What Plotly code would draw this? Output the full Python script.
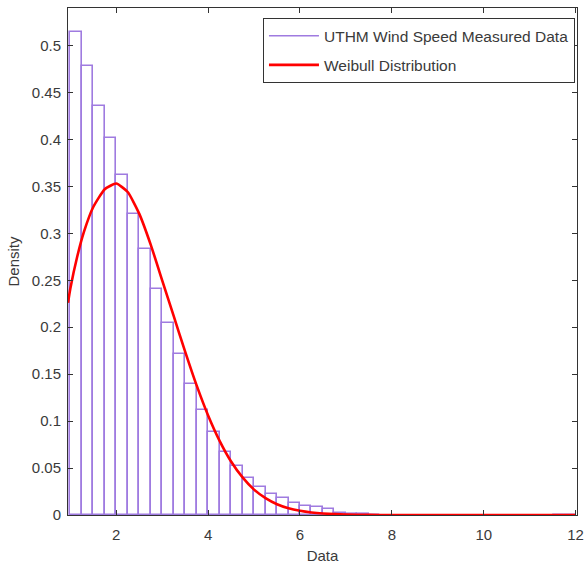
import plotly.graph_objects as go

# Histogram: left bin edges (width 0.25) and densities
bin_left = [1.00, 1.25, 1.50, 1.75, 2.00, 2.25, 2.50, 2.75, 3.00, 3.25,
            3.50, 3.75, 4.00, 4.25, 4.50, 4.75, 5.00, 5.25, 5.50, 5.75,
            6.00, 6.25, 6.50, 6.75, 7.00, 7.25, 7.50, 11.50, 11.75]
bin_width = 0.25
density = [0.514, 0.478, 0.436, 0.402, 0.362, 0.321, 0.283, 0.241, 0.204, 0.172,
           0.139, 0.112, 0.088, 0.067, 0.052, 0.039, 0.0295, 0.022, 0.018, 0.0125,
           0.0095, 0.008, 0.006, 0.0025, 0.0015, 0.001, 0.0005, 0.0004, 0.0003]

# Weibull fit curve
curve_x = [0.95, 1.0, 1.15, 1.3, 1.5, 1.75, 2.0, 2.25, 2.5, 2.75, 3.0, 3.25, 3.5,
           3.75, 4.0, 4.25, 4.5, 4.75, 5.0, 5.25, 5.5, 5.75, 6.0, 6.25, 6.5,
           7.0, 7.5, 8.0, 9.0, 10.0, 11.0, 12.0]
curve_y = [0.226, 0.241, 0.275, 0.302, 0.328, 0.347, 0.353, 0.344, 0.321, 0.288,
           0.250, 0.212, 0.174, 0.138, 0.106, 0.079, 0.057, 0.040, 0.027, 0.018,
           0.0115, 0.0072, 0.0045, 0.0027, 0.0016, 0.0005, 0.0001, 0.0, 0.0, 0.0,
           0.0, 0.0]

x_ticks = [2, 4, 6, 8, 10, 12]
y_ticks = [0, 0.05, 0.1, 0.15, 0.2, 0.25, 0.3, 0.35, 0.4, 0.45, 0.5]
y_tick_text = ["0", "0.05", "0.1", "0.15", "0.2", "0.25", "0.3", "0.35", "0.4", "0.45", "0.5"]

hist_name = "UTHM Wind Speed Measured Data"
fit_name = "Weibull Distribution"

PURPLE = "#9f7be0"
TEXT = "#3a3a3a"
FONT = "Liberation Sans, Arial, sans-serif"

centers = [b + bin_width / 2 for b in bin_left]

fig = go.Figure()
fig.add_trace(go.Bar(
    x=centers, y=density, width=bin_width,
    marker=dict(color="white", line=dict(color=PURPLE, width=1.6)),
    showlegend=False, hoverinfo="x+y",
))
fig.add_trace(go.Scatter(
    x=[None], y=[None], mode="lines", name=hist_name,
    line=dict(color=PURPLE, width=1.6), legendgroup="a",
))
fig.add_trace(go.Scatter(
    x=curve_x, y=curve_y, mode="lines", name=fit_name,
    line=dict(color="red", width=2.6, shape="spline", smoothing=0.5),
    legendgroup="b",
))

axis_common = dict(
    showline=True, linecolor="#333333", linewidth=1, mirror="ticks",
    ticks="inside", ticklen=5, tickcolor="#333333", tickwidth=1,
    showgrid=False, zeroline=False, automargin=False,
    tickfont=dict(family=FONT, size=15, color=TEXT),
    title_font=dict(family=FONT, size=15, color=TEXT),
)

fig.update_layout(
    width=584, height=567,
    margin=dict(l=68, r=7, t=8, b=52),
    paper_bgcolor="white", plot_bgcolor="white",
    font=dict(family=FONT, size=15, color=TEXT),
    bargap=0,
    xaxis=dict(range=[0.95, 12.03], tickvals=x_ticks, ticklabelstandoff=6,
               title=dict(text="Data", standoff=8), **axis_common),
    yaxis=dict(range=[0, 0.54], tickvals=y_ticks, ticktext=y_tick_text,
               ticklabelstandoff=3,
               title=dict(text="Density", standoff=8), **axis_common),
    legend=dict(
        x=0.996, xanchor="right", y=0.98, yanchor="top",
        bgcolor="white", bordercolor="#333333", borderwidth=1,
        font=dict(family=FONT, size=15.5, color=TEXT),
        traceorder="grouped", tracegroupgap=6, itemwidth=50,
    ),
    showlegend=True,
)

fig.write_html(
    "out.html",
    config={"displayModeBar": False},
    post_script="document.body.style.margin='0';document.body.style.padding='0';",
)
